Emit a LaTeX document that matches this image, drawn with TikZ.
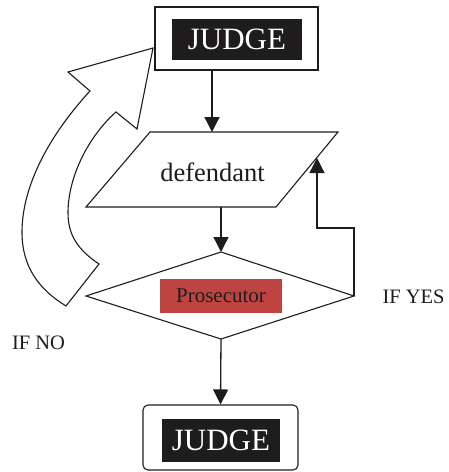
\documentclass[tikz,border=0pt]{standalone}
\usepackage{fontspec}
\setmainfont{Liberation Serif}
\usetikzlibrary{arrows.meta}
\definecolor{prosred}{RGB}{190,68,65}
\definecolor{ink}{RGB}{30,28,28}
\begin{document}
\begin{tikzpicture}[x=1pt,y=-1pt,line width=1.1pt,
  outline/.style={draw=ink,line width=1.1pt},
  conn/.style={draw=ink,line width=1.3pt,-{Triangle[length=15pt,width=15pt]}},
  blacklabel/.style={fill=ink,text=white,inner sep=0pt,font=\fontsize{31}{31}\selectfont},
  lbl/.style={text=ink,inner sep=0pt,font=\fontsize{20.5}{21}\selectfont}]
\useasboundingbox (0,0) rectangle (448,472);
% top judge box
\node[outline,minimum width=163pt,minimum height=63pt,inner sep=0pt] (judgeTop) at (236.5,38.5) {};
\node[blacklabel,minimum width=130pt,minimum height=41pt] (judgeTopLbl) at (237,39.5) {JUDGE};
% parallelogram
\coordinate (pTL) at (150,132);
\coordinate (pTR) at (338,132);
\coordinate (pBR) at (276,207);
\coordinate (pBL) at (86,207);
\draw[outline,fill=white] (pTL) -- (pTR) -- (pBR) -- (pBL) -- cycle;
\node[text=ink,inner sep=0pt,font=\fontsize{26.5}{27}\selectfont] (def) at (212.5,172) {defendant};
% diamond
\coordinate (dT) at (221,252);
\coordinate (dR) at (354,296);
\coordinate (dB) at (221,339);
\coordinate (dL) at (86,296);
\draw[outline,fill=white] (dT) -- (dR) -- (dB) -- (dL) -- cycle;
\node[fill=prosred,text=ink,inner sep=0pt,minimum width=122pt,minimum height=34pt,font=\fontsize{21}{21}\selectfont] (pros) at (221,296) {Prosecutor};
% bottom judge box
\node[outline,rounded corners=5pt,minimum width=155pt,minimum height=65pt,inner sep=0pt] (judgeBot) at (220.5,437.5) {};
\node[blacklabel,minimum width=118pt,minimum height=43pt] (judgeBotLbl) at (221,440.5) {JUDGE};
% connectors
\coordinate (pTop) at (212,132);
\draw[conn] (pTop |- judgeTop.south) -- (pTop);
\coordinate (pBot) at (221,207);
\draw[conn] (pBot) -- (dT);
\draw[conn] (dB) -- (judgeBot.north);
\coordinate (yesA) at (354,228);
\coordinate (yesB) at (317,228);
\coordinate (yesTip) at (317,158);
\draw[conn] (dR) -- (yesA) -- (yesB) -- (yesTip);
% labels
\node[lbl,anchor=west] (ifyes) at (382,297) {IF YES};
\node[lbl] (ifno) at (38.5,343) {IF NO};
% curved block arrow
\draw[outline,fill=white,line join=miter]
  (90,91) -- (68,72) -- (153,48) -- (137,129) -- (116,112)
  .. controls (90,135) and (68,175) .. (68,213)
  .. controls (68,235) and (78,250) .. (99,264)
  -- (66,306)
  .. controls (40,290) and (22,268) .. (22,232)
  .. controls (22,190) and (45,140) .. cycle;
\end{tikzpicture}
\end{document}
